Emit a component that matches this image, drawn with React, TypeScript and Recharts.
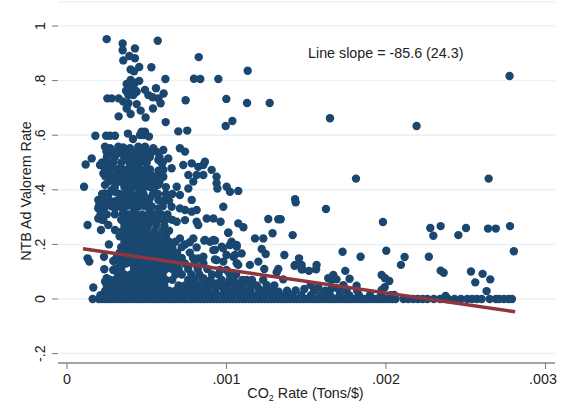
import React from "react";
import { ScatterChart, Scatter, XAxis, YAxis, CartesianGrid, ReferenceDot } from "recharts";

// x values are in thousandths of a ton per dollar
const upperPoints: number[][] = [
  [.249,.952],[.349,.936],[.349,.911],[.426,.918],[.569,.946],[.826,.886],[1.133,.836],[.353,.874],[.391,.89],[.426,.882],
  [.399,.841],[.42,.834],[.453,.85],[.529,.849],[.617,.806],[.796,.807],[.836,.806],[.949,.806],[.374,.788],[.399,.802],
  [.426,.792],[.453,.799],[.37,.763],[.395,.775],[.426,.766],[.385,.747],[.416,.747],[.437,.759],[.489,.766],[.558,.772],
  [.51,.747],[.537,.739],[.573,.735],[.606,.753],[.253,.735],[.28,.735],[.324,.735],[.353,.723],[.385,.717],[.437,.714],
  [.374,.698],[.399,.678],[.462,.69],[.539,.698],[.587,.717],[.324,.669],[.493,.665],[.619,.648],[.744,.728],[.999,.733],
  [1.129,.718],[1.271,.718],[1.037,.652],[.995,.634],[.698,.614],[.754,.617],[.178,.598],[.245,.598],[.27,.598],[.301,.598],
  [.382,.606],[.414,.586],[.468,.613],[.489,.613],[.458,.601],[.483,.601],[.514,.595],[1.649,.662],[2.192,.634],[2.775,.817],
  [1.812,.441],[2.644,.441],[1.43,.366],
];

const middlePoints: number[][] = [
  [.238,.558],[.27,.552],[.322,.558],[.353,.555],[.395,.552],[.447,.558],[.489,.558],[.541,.552],[.604,.546],[.635,.515],[.708,.552],[.74,.54],
  [.248,.54],[.29,.533],[.342,.533],[.374,.515],[.416,.533],[.458,.533],[.573,.509],[.594,.497],
  [.117,.493],[.155,.515],[.207,.491],[.238,.479],[.28,.491],[.332,.479],[.395,.479],[.228,.46],[.259,.454],[.29,.448],[.332,.46],[.416,.46],[.447,.454],
  [.52,.46],[.573,.47],[.604,.473],[.656,.479],[.729,.491],[.782,.497],[.823,.484],[.865,.503],[.855,.491],
  [.238,.418],[.28,.399],[.332,.43],[.364,.411],[.395,.393],[.447,.43],[.489,.411],[.52,.436],[.573,.418],[.604,.448],[.688,.411],[.761,.405],[.792,.43],[.761,.454],[.813,.454],
  [.855,.454],[.907,.473],[.938,.448],[.938,.424],[.943,.405],[1.001,.411],[1.022,.393],[1.074,.396],[.107,.411],
  [.196,.363],[.238,.387],[.301,.393],[.353,.363],[.416,.357],[.458,.375],[.52,.369],[.573,.363],[.708,.381],[.782,.363],
  [.228,.326],[.196,.332],[.301,.332],[.353,.32],[.426,.326],[.52,.326],[.573,.332],[.656,.338],[.708,.332],[.74,.326],[.782,.32],[.813,.326],[.98,.338],
  [.196,.295],[.228,.289],[.259,.271],[.301,.253],[.129,.271],[.213,.253],[.353,.289],[.395,.295],[.489,.295],[.541,.289],[.635,.295],[.688,.283],[.74,.289],
  [.813,.283],[.823,.271],[.876,.295],[.918,.295],[.963,.283],[1.074,.277],[1.106,.263],[1.262,.293],[1.325,.292],
];

const lowerPoints: number[][] = [
  [1.012,.243],[.861,.214],[.897,.21],[.928,.214],[1.179,.222],[1.231,.222],[1.289,.241],[1.415,.234],[1.221,.183],[1.246,.165],
  [1.363,.161],[1.455,.149],[1.728,.173],[1.841,.155],[1.43,.125],[1.471,.125],[1.475,.109],[1.517,.103],[1.565,.125],[1.562,.109],
  [1.325,.11],[1.315,.098],[1.237,.11],[1.2,.137],[1.147,.125],[1.356,.072],[1.434,.031],[1.488,.037],[1.528,.051],[1.576,.042],
  [1.327,.027],[1.67,.088],[1.745,.103],[1.772,.074],[1.638,.076],[1.69,.072],[1.816,.049],[1.733,.051],[1.753,.035],[1.659,.039],[1.701,.037],
  [.928,.18],[.97,.192],[1.032,.21],[1.064,.198],[1.095,.167],[.928,.145],[.98,.137],[1.043,.155],[1.074,.125],[.959,.106],[1.0,.106],[.855,.155],[.855,.131],
  [1.252,.051],[1.2,.039],[1.127,.07],[1.085,.057],[1.022,.063],[1.05,.063],[.938,.057],[.855,.076],[.897,.063],[1.14,.033],[1.106,.033],[1.05,.033],[.98,.039],
  [.708,.222],[.74,.2],[.792,.222],[.865,.216],[.918,.216],[1.011,.243],[.813,.189],[.77,.208],[.823,.149],[.918,.179],[.98,.186],[1.022,.198],[1.064,.191],
  [.938,.143],[1.0,.161],[1.053,.161],[1.064,.131],
  [.129,.149],[.14,.137],[.165,.042],[.161,0],[.232,.155],[.234,.109],[.249,.076],[.239,.064],[.263,.2],[.29,.139],[.322,.143],[.29,.106],[.217,.006],
  [1.434,.354],[1.624,.33],[1.34,.292],[1.427,.122],[1.471,.109],[1.659,.07],
  [1.981,.282],[2.002,.177],[2.117,.154],[2.094,.125],[2.269,.155],[1.973,.088],[1.994,.076],[2.021,.066],[1.992,.043],[1.973,.033],[2.052,.015],
  [2.278,.26],[2.297,.232],[2.343,.267],[2.454,.234],[2.502,.26],[2.64,.258],[2.689,.258],[2.778,.267],[2.802,.175],[2.343,.104],
  [2.362,.096],[2.533,.101],[2.606,.092],[2.56,.061],[2.654,.072],[2.631,.029],[2.374,.011],
];

const mottledRows: [number, number[]][] = [
  [.54,[.25,.28,.31,.34,.37,.4,.43,.46,.5,.53,.56]],
  [.52,[.25,.3,.36,.41,.44,.48,.52,.58]],
  [.5,[.22,.26,.29,.34,.39,.43,.46,.5,.6]],
  [.475,[.24,.27,.31,.35,.38,.42,.45,.49,.52,.6]],
  [.45,[.24,.27,.3,.34,.37,.41,.44,.48,.52,.56,.6]],
  [.43,[.26,.3,.34,.38,.42,.46,.5,.55,.58]],
  [.41,[.3,.36,.4,.44,.47,.52,.55,.62]],
  [.385,[.22,.26,.33,.37,.41,.45,.48,.54,.57,.62,.66]],
  [.36,[.23,.27,.31,.36,.39,.43,.47,.51,.6,.64]],
  [.34,[.2,.24,.28,.33,.37,.41,.45,.49,.53,.6]],
  [.31,[.21,.25,.3,.35,.39,.43,.47,.51,.55,.59,.63]],
  [.29,[.22,.34,.37,.41,.45,.49,.53,.57,.61,.66]],
];

const denseRows: [number, number[]][] = [
  [.27,[.36,.4,.44,.47,.51,.56,.61]],
  [.25,[.35,.38,.42,.46,.5,.55,.6,.64]],
  [.23,[.33,.37,.41,.45,.49,.53,.57,.62]],
  [.21,[.36,.4,.44,.48,.52,.56,.6,.64,.68]],
  [.19,[.34,.38,.42,.46,.5,.54,.58,.62,.66,.72]],
  [.17,[.33,.37,.41,.45,.49,.53,.57,.61,.65,.69,.77]],
  [.15,[.31,.35,.39,.43,.47,.51,.55,.59,.63,.67,.72,.79]],
  [.13,[.33,.37,.41,.45,.49,.53,.57,.61,.65,.69,.74,.8]],
  [.11,[.3,.34,.42,.46,.5,.54,.58,.62,.66,.7,.76,.82,.88]],
  [.09,[.32,.36,.4,.44,.48,.52,.56,.6,.68,.72,.78,.83,.91,.95,1.02,1.06]],
  [.07,[.27,.3,.34,.38,.42,.46,.5,.54,.58,.62,.66,.76,.8,.85,.9,.97,1.02,1.1,1.16,1.23]],
  [.05,[.25,.29,.33,.37,.41,.45,.49,.53,.57,.61,.7,.74,.78,.82,.87,.91,.96,1.0,1.05,1.1,1.15,1.19,1.3]],
  [.03,[.24,.28,.32,.36,.4,.44,.48,.52,.56,.6,.64,.68,.72,.76,.8,.84,.88,.93,1.0,1.03,1.07,1.15,1.23,1.28,1.38,1.55,1.62,1.75,1.82]],
  [.014,[.21,.25,.29,.33,.37,.41,.45,.49,.53,.57,.61,.65,.69,.73,.77,.81,.85,.89,.93,.97,1.01,1.05,1.09,1.13,1.17,1.21,1.25,1.29,1.33,1.37,1.41,1.47,1.53,1.59,1.65,1.71,1.77,1.83,1.9,1.97,2.03]],
  [0,[.2,.22,.24,.26,.28,.3,.32,.34,.36,.38,.4,.42,.44,.46,.48,.5,.52,.54,.56,.58,.6,.62,.64,.66,.68,.7,.72,.74,.76,.78,.8,.82,.84,.86,.88,.9,.92,.94,.96,.98,1.0,1.02,1.04,1.06,1.08,1.1,1.12,1.14,1.16,1.18,1.2,1.22,1.24,1.26,1.28,1.3,1.32,1.34,1.36,1.38,1.4,1.42,1.44,1.46,1.48,1.5,1.52,1.54,1.56,1.58,1.6,1.62,1.64,1.66,1.68,1.7,1.72,1.74,1.76,1.78,1.8,1.82,1.84,1.86,1.88,1.9,1.92,1.94,1.96,1.98,2.0,2.02,2.04,2.06,2.11,2.14,2.17,2.2,2.23,2.26,2.3,2.34,2.39,2.43,2.47,2.51,2.54,2.57,2.6,2.65,2.69,2.71,2.74,2.77,2.79]],
];

const fitLine = [
  { x: 0.00010, y: 0.184 },
  { x: 0.00281, y: -0.047 },
];

const xTicks = [0, 0.001, 0.002, 0.003];
const xTickLabels = ["0", ".001", ".002", ".003"];
const yTicks = [-0.2, 0, 0.2, 0.4, 0.6, 0.8, 1];
const yTickLabels = ["-.2", "0", ".2", ".4", ".6", ".8", "1"];

const toPoint = ([x, y]: number[]) => ({ x: x / 1000, y });
const points = [
  ...upperPoints.map(toPoint),
  ...middlePoints.map(toPoint),
  ...lowerPoints.map(toPoint),
  ...mottledRows.flatMap(([y, xs]) => xs.map((x) => toPoint([x, y]))),
  ...denseRows.flatMap(([y, xs]) => xs.map((x) => toPoint([x, y]))),
];

const FONT = "'Liberation Sans', Arial, sans-serif";
const INK = "#222222";
const FS = 14.3;

const YTick = ({ x, y, payload }: any) => (
  <text
    x={x - 5}
    y={y}
    transform={`rotate(-90 ${x - 5} ${y})`}
    textAnchor="middle"
    fontFamily={FONT}
    fontSize={FS}
    fill={INK}
  >
    {yTickLabels[yTicks.indexOf(payload.value)]}
  </text>
);

const XTick = ({ x, y, payload }: any) => (
  <text x={x} y={y + 13} textAnchor="middle" fontFamily={FONT} fontSize={FS} fill={INK}>
    {xTickLabels[xTicks.indexOf(payload.value)]}
  </text>
);

const XTitle = ({ viewBox }: any) => (
  <text
    x={viewBox.x + viewBox.width / 2 - 1}
    y={398}
    textAnchor="middle"
    fontFamily={FONT}
    fontSize={FS}
    fill={INK}
  >
    CO
    <tspan fontSize={9} dy={3}>2</tspan>
    <tspan dy={-3}> Rate (Tons/$)</tspan>
  </text>
);

const YTitle = () => {
  const cx = 31;
  const cy = 191;
  return (
    <text
      x={cx}
      y={cy}
      transform={`rotate(-90 ${cx} ${cy})`}
      textAnchor="middle"
      fontFamily={FONT}
      fontSize={FS}
      fill={INK}
    >
      NTB Ad Valorem Rate
    </text>
  );
};

export default function App() {
  return (
    <div style={{ position: "absolute", left: 0, top: 0, width: 561, height: 407, background: "#fff" }}>
      <ScatterChart
        width={561}
        height={407}
        margin={{ top: 2, right: 6, bottom: 14, left: 22 }}
      >
        <CartesianGrid horizontal vertical={false} stroke="#eaf2f3" strokeWidth={1.5} />
        <XAxis
          type="number"
          dataKey="x"
          domain={[-0.0000564, 0.003060]}
          allowDataOverflow
          ticks={xTicks}
          tick={<XTick />}
          tickLine={{ stroke: "#777", strokeWidth: 1 }}
          tickSize={6}
          axisLine={{ stroke: "#888", strokeWidth: 1.5 }}
          height={30}
          label={<XTitle />}
        />
        <YAxis
          type="number"
          dataKey="y"
          domain={[-0.2344, 1.088]}
          allowDataOverflow
          ticks={yTicks}
          tick={<YTick />}
          tickLine={{ stroke: "#777", strokeWidth: 1 }}
          tickSize={6}
          axisLine={false}
          width={36}
          label={<YTitle />}
        />
        <Scatter data={points} fill="#1a476f" isAnimationActive={false} shape={(p: any) => <circle cx={p.cx} cy={p.cy} r={4.2} fill="#1a476f" />} />
        <Scatter
          data={fitLine}
          isAnimationActive={false}
          line={{ stroke: "#90353b", strokeWidth: 3.5 }}
          shape={() => <g />}
        />
        <ReferenceDot
          x={0.00148}
          y={0.9}
          r={0}
          stroke="none"
          fill="none"
          label={{
            value: "Line slope = -85.6 (24.3)",
            position: "right",
            fontFamily: FONT,
            fontSize: FS,
            fill: INK,
          }}
        />
      </ScatterChart>
    </div>
  );
}
